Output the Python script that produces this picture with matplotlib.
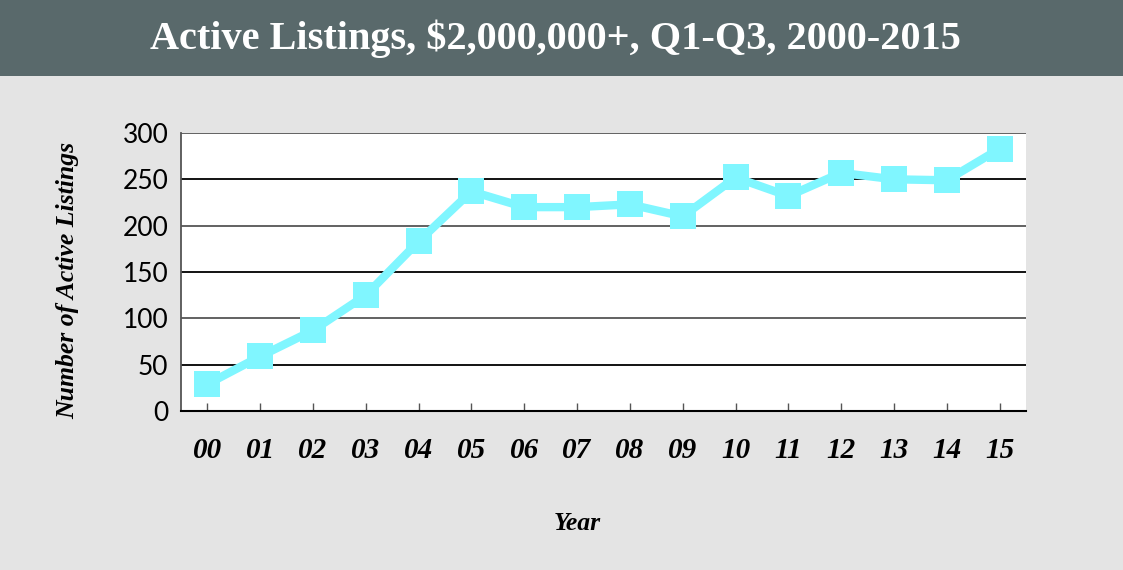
import matplotlib
matplotlib.use("Agg")
import matplotlib.pyplot as plt
from matplotlib.patches import Rectangle

years = ["00", "01", "02", "03", "04", "05", "06", "07", "08", "09",
         "10", "11", "12", "13", "14", "15"]
listings = [29, 59, 87, 125, 183, 237, 220, 220, 223, 210,
            252, 232, 257, 250, 249, 283]
yticks = [0, 50, 100, 150, 200, 250, 300]

title = "Active Listings, $2,000,000+, Q1-Q3, 2000-2015"
line_color = "#80F6FF"
bg = "#E4E4E4"
banner = "#59696B"

W, H = 1123, 570
fig = plt.figure(figsize=(W / 100, H / 100), dpi=100, facecolor=bg)

# title banner
fig.patches.append(Rectangle((0, 1 - 76 / H), 1, 76 / H, transform=fig.transFigure,
                             facecolor=banner, edgecolor="none", zorder=0))
fig.text(555 / W, 1 - 39 / H, title, color="white", ha="center", va="center",
         fontsize=29, fontweight="bold", family="Liberation Serif")

ax = fig.add_axes([181 / W, 1 - 411 / H, (1026 - 181) / W, (411 - 133) / H])
ax.set_facecolor("white")
x = list(range(len(years)))
ax.plot(x, listings, color=line_color, lw=6, marker="s", markersize=18.5,
        markeredgewidth=0, zorder=3, clip_on=False)

ax.set_xlim(-0.5, len(years) - 0.5)
ax.set_ylim(0, 300)
ax.set_yticks(yticks)
ax.set_yticklabels([str(v) for v in yticks], family="Lato", fontsize=19)
ax.set_xticks(x)
ax.set_xticklabels(years, family="Liberation Serif", fontstyle="italic",
                   fontweight="bold", fontsize=21)
ax.tick_params(axis="x", direction="in", length=6, width=1, color="#555555", pad=19)
ax.tick_params(axis="y", length=0, pad=9)

for v, c in zip(yticks[1:], ["#000000", "#555555", "#000000", "#555555", "#000000", "#555555"]):
    ax.axhline(v, color=c, lw=1.3, zorder=1)

for s in ["top", "right"]:
    ax.spines[s].set_visible(False)
ax.spines["left"].set_color("#555555")
ax.spines["left"].set_linewidth(1.3)
ax.spines["bottom"].set_color("#000000")
ax.spines["bottom"].set_linewidth(1.5)

fig.text(68 / W, 1 - 280 / H, "Number of Active Listings", rotation=90,
         ha="center", va="center", family="Liberation Serif", fontstyle="italic",
         fontweight="bold", fontsize=18.5)
fig.text(577 / W, 1 - 524 / H, "Year", ha="center", va="center",
         family="Liberation Serif", fontstyle="italic", fontweight="bold", fontsize=18.5)

fig.savefig("out.png", dpi=100, facecolor=bg)
